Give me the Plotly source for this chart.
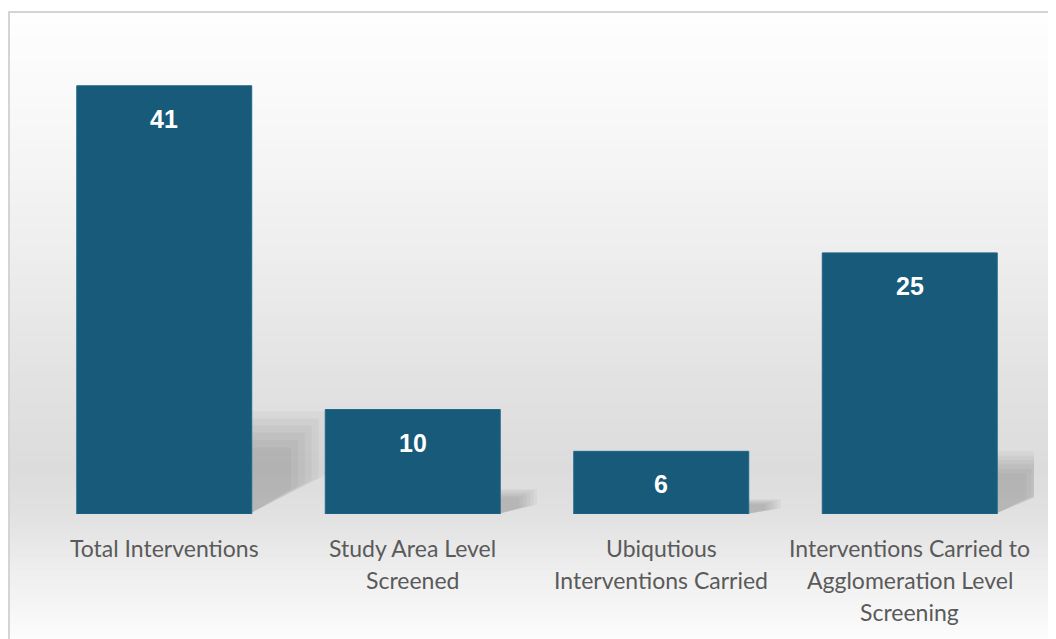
import plotly.graph_objects as go

categories = ["Total Interventions", "Study Area Level<br>Screened",
              "Ubiqutious<br>Interventions Carried",
              "Interventions Carried to<br>Agglomeration Level<br>Screening"]
values = [41, 10, 6, 25]

W, H = 1056, 639
OFF = 8  # page body margin
ML, MR, MT, MB = 40 - OFF, 22 + OFF, 44 - OFF, 125 + OFF
YMAX = 45
BARGAP = 0.296
BAR_COLOR = "#175a7a"

fig = go.Figure()
fig.add_trace(go.Bar(
    x=list(range(len(categories))), y=values,
    marker=dict(color=BAR_COLOR, line=dict(color="#1e6688", width=1)),
    hoverinfo="skip", showlegend=False,
))

plot_h = H - MT - MB
plot_w = W - ML - MR
def py_to_paper(py):  # py = page pixel
    return (H - MB - (py - OFF)) / plot_h
def px_to_paper(px):
    return ((px - OFF) - ML) / plot_w

# background gradient (decorative)
stops = [(12, 254), (120, 248), (250, 238), (380, 226), (470, 220), (520, 226), (570, 238), (639, 252), (700, 254)]
def gray_at(p):
    for (a, ga), (b, gb) in zip(stops, stops[1:]):
        if a <= p <= b:
            t = (p - a) / (b - a)
            return ga + (gb - ga) * t
    return stops[-1][1]

shapes = []
frame_x = px_to_paper(9)
step = 6
p = 12
while p < H + 10:
    g = int(round(gray_at(p + step / 2)))
    shapes.append(dict(type="rect", xref="paper", yref="paper", layer="below",
                       x0=frame_x, x1=1.2, y0=py_to_paper(p + step + 0.5), y1=py_to_paper(p),
                       fillcolor=f"rgb({g},{g},{g})", line=dict(width=0)))
    p += step

# frame
shapes.append(dict(type="rect", xref="paper", yref="paper", layer="below",
                   x0=frame_x, x1=1.2, y0=py_to_paper(H + 40), y1=py_to_paper(12),
                   fillcolor="rgba(0,0,0,0)", line=dict(color="#d4d4d4", width=2)))

# soft perspective shadows behind bars (decorative, derived from values)
half = (1 - BARGAP) / 2
for i, v in enumerate(values):
    xr = i + half - 0.01
    d = 0.11 + 0.0048 * v
    top = 0.24 * v
    for k in range(6):
        dd = d * (1 - 0.09 * k)
        tt = top * (1 - 0.07 * k)
        path = (f"M {xr},0 L {xr},{tt} L {xr + dd},{tt} "
                f"L {xr + dd},{tt * 0.38} Z")
        shapes.append(dict(type="path", xref="x", yref="y", layer="below", path=path,
                           fillcolor="rgba(110,110,110,0.065)", line=dict(width=0)))

annotations = []
for i, v in enumerate(values):
    annotations.append(dict(x=i, y=v, xref="x", yref="y", text=str(v), showarrow=False,
                            yshift=-33, yanchor="middle",
                            font=dict(family="Liberation Sans, Arial", size=25, color="white", weight="bold")))
    for j, line in enumerate(categories[i].split("<br>")):
        annotations.append(dict(x=i, y=0, xref="x", yref="y", text=line, showarrow=False,
                                yshift=-(34 + 32 * j), yanchor="middle",
                                font=dict(family="Lato", size=23, color="#5a5a5a")))

fig.update_layout(
    width=W, height=H,
    margin=dict(l=ML, r=MR, t=MT, b=MB),
    paper_bgcolor="white", plot_bgcolor="rgba(0,0,0,0)",
    bargap=BARGAP,
    xaxis=dict(range=[-0.5, len(categories) - 0.5], showticklabels=False, showgrid=False,
               zeroline=False, showline=False, ticks=""),
    yaxis=dict(range=[0, YMAX], visible=False),
    shapes=shapes, annotations=annotations,
)

fig.write_html("out.html")
